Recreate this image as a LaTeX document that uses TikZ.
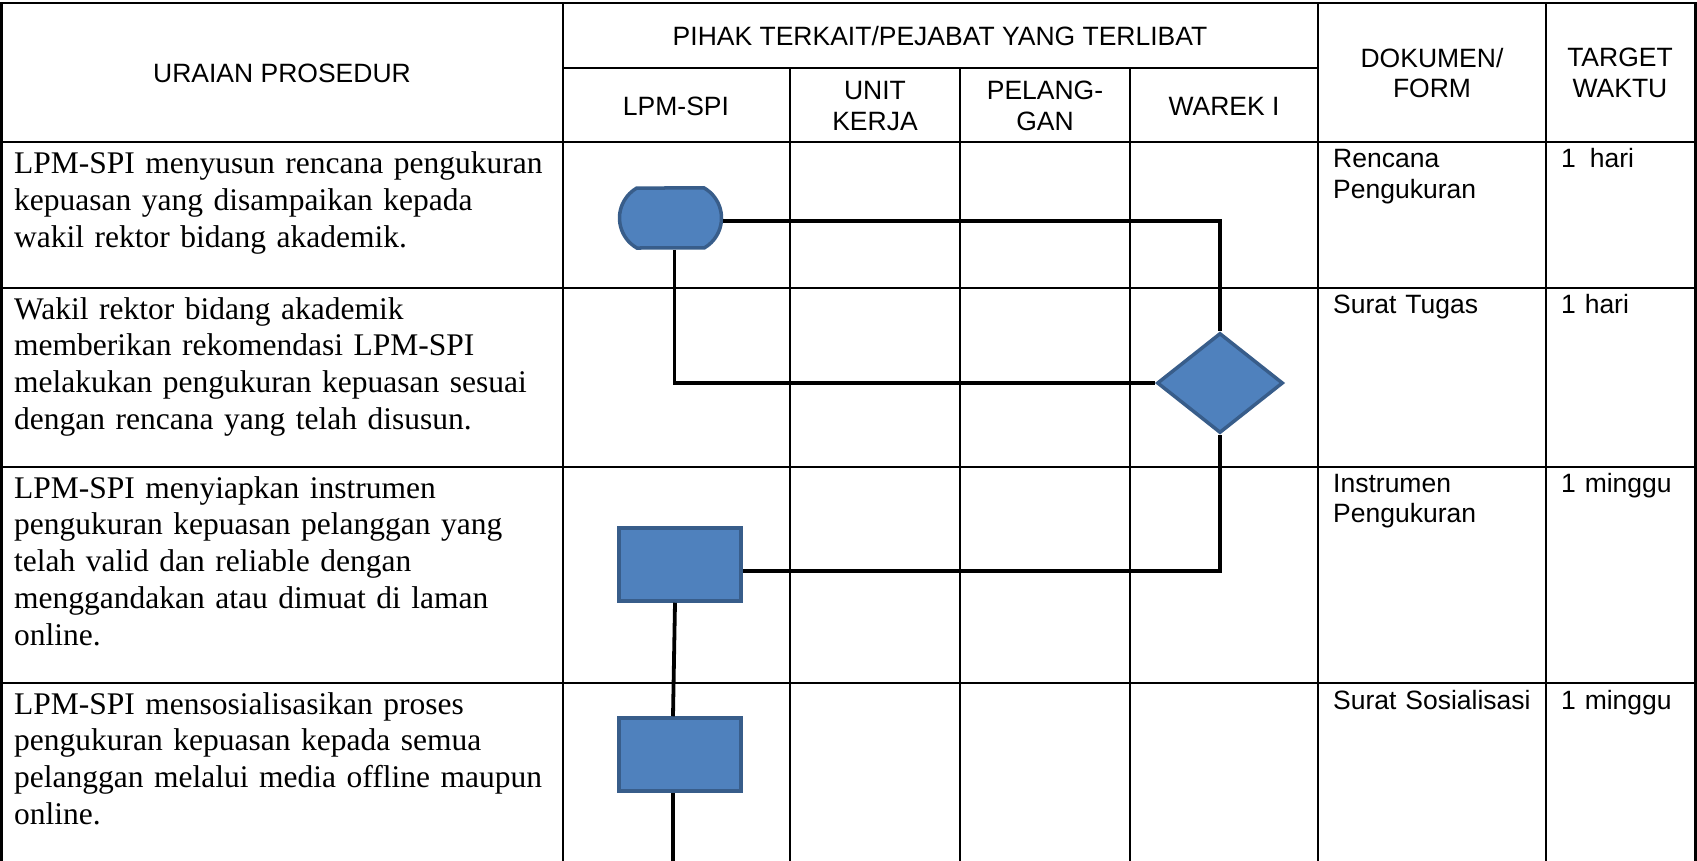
\documentclass[tikz,border=0pt]{standalone}
\usepackage{fontspec}
\setmainfont{Liberation Serif}
\newfontfamily\arialf{Liberation Sans}
\usetikzlibrary{shapes.geometric,shapes.misc}
\definecolor{boxfill}{HTML}{4F81BD}
\definecolor{boxline}{HTML}{385D8A}
\tikzset{
  grid/.style={line width=2pt, black},
  outer/.style={line width=2.6pt, black},
  conn/.style={line width=3.8pt, black},
  shapebox/.style={fill=boxfill, draw=boxline, line width=3.5pt, inner sep=0pt},
  hdr/.style={font=\arialf\fontsize{26.5}{30.5}\selectfont, align=center, inner sep=0pt},
  body/.style={font=\fontsize{31.5}{36.8}\selectfont, align=left, anchor=base west, inner sep=0pt, text width=540pt},
  side/.style={font=\arialf\fontsize{26.5}{30.5}\selectfont, align=left, anchor=base west, inner sep=0pt, text width=210pt},
}
\begin{document}
\begin{tikzpicture}[x=1pt,y=-1pt]
\useasboundingbox (0,0) rectangle (1697,861);
% table grid
\draw[grid] (562.5,68) -- (1318,68);
\foreach \yy in {142.5,287.5,466.5,683} {\draw[grid] (1,\yy) -- (1695.5,\yy);}
\foreach \xx in {790,960,1130} {\draw[grid] (\xx,68) -- (\xx,861);}
\foreach \xx in {562.5,1318,1546} {\draw[grid] (\xx,3) -- (\xx,861);}
\draw[outer] (1.3,861) -- (1.3,3) -- (1695.7,3) -- (1695.7,861);
% header
\node[hdr] (h1) at (282,73) {URAIAN PROSEDUR};
\node[hdr] (h2) at (940,36) {PIHAK TERKAIT/PEJABAT YANG TERLIBAT};
\node[hdr] (h3) at (676,106) {LPM-SPI};
\node[hdr] (h4) at (875,106) {UNIT\\KERJA};
\node[hdr] (h5) at (1045,106) {PELANG-\\GAN};
\node[hdr] (h6) at (1224,106) {WAREK I};
\node[hdr] (h7) at (1432,73) {DOKUMEN/\\FORM};
\node[hdr] (h8) at (1620,73) {TARGET\\WAKTU};
% body text
\node[body] (t1) at (14,174) {LPM-SPI menyusun rencana pengukuran\\kepuasan yang disampaikan kepada\\wakil rektor bidang akademik.};
\node[body] (t2) at (14,319) {Wakil rektor bidang akademik\\memberikan rekomendasi LPM-SPI\\melakukan pengukuran kepuasan sesuai\\dengan rencana yang telah disusun.};
\node[body] (t3) at (14,498) {LPM-SPI menyiapkan instrumen\\pengukuran kepuasan pelanggan yang\\telah valid dan reliable dengan\\menggandakan atau dimuat di laman\\online.};
\node[body] (t4) at (14,714) {LPM-SPI mensosialisasikan proses\\pengukuran kepuasan kepada semua\\pelanggan melalui media offline maupun\\online.};
% documents and time
\node[side] (d1) at (1333,168) {Rencana\\Pengukuran};
\node[side] (d2) at (1333,313) {Surat Tugas};
\node[side] (d3) at (1333,492) {Instrumen\\Pengukuran};
\node[side] (d4) at (1333,709) {Surat Sosialisasi};
\node[side, text width=140pt] (w1) at (1561,168) {1\hspace{14pt}hari};
\node[side, text width=140pt] (w2) at (1561,313) {1 hari};
\node[side, text width=140pt] (w3) at (1561,492) {1 minggu};
\node[side, text width=140pt] (w4) at (1561,709) {1 minggu};
% flowchart shapes
\node[shapebox, rounded rectangle, rounded rectangle arc length=120, minimum width=102pt, minimum height=60pt] (term) at (670.5,218) {};
\node[shapebox, diamond, minimum width=126pt, minimum height=100pt] (dia) at (1220,383) {};
\node[shapebox, rectangle, minimum width=122pt, minimum height=73pt] (rect1) at (680,564.5) {};
\node[shapebox, rectangle, minimum width=122pt, minimum height=73pt] (rect2) at (680,754.5) {};
\coordinate (endpt) at (673,861);
% connectors
\draw[conn] ([yshift=-3pt]term.east) -| (dia.north);
\draw[conn] ([xshift=4pt]term.south) |- (dia.west);
\draw[conn] (dia.south) |- ([yshift=-6.5pt]rect1.east);
\draw[conn] ([xshift=-5pt]rect1.south) -- ([xshift=-7pt]rect2.north);
\draw[conn] ([xshift=-7pt]rect2.south) -- (endpt);
\end{tikzpicture}
\end{document}
